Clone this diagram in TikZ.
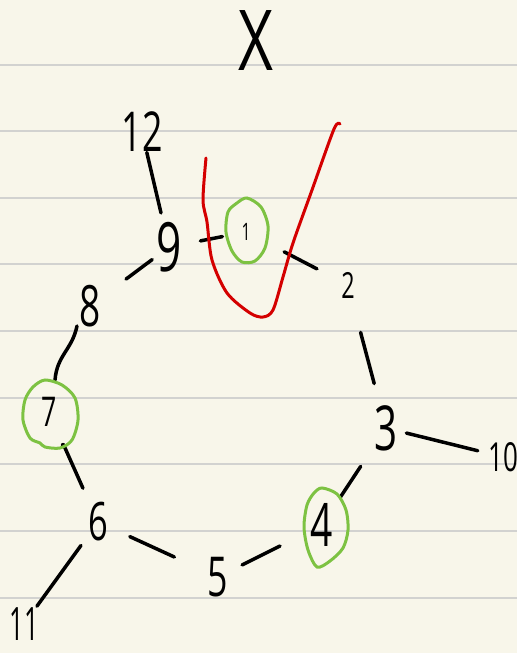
\documentclass[tikz,border=0pt]{standalone}
\usepackage{fontspec}
\setmainfont{Open Sans}
\usepackage{tikz}
\newcommand\hsz[1]{\fontsize{#1}{#1}\selectfont}
\definecolor{paper}{HTML}{F8F6EA}
\definecolor{rule}{HTML}{D2D2D0}
\definecolor{hlgreen}{HTML}{7DC242}
\definecolor{checkred}{HTML}{D40000}
\tikzset{
  lbl/.style={inner sep=0pt, xscale=0.65},
  edge/.style={line width=3.5pt, line cap=round},
  ring/.style={hlgreen, line width=3pt},
}
\begin{document}
\begin{tikzpicture}[x=1pt,y=-1pt]
\fill[paper] (0,0) rectangle (517,653);
\useasboundingbox (0,0) rectangle (517,653);
\foreach \y in {65,131,198,264,331,398,464,531,598}
  \draw[rule, line width=2pt] (0,\y) -- (517,\y);

\node[inner sep=0pt, xscale=0.72] (title) at (256,41) {\hsz{84}X};

\node[lbl] (n12) at (142,132) {\hsz{55}12};
\node[lbl] (n9) at (169,247) {\hsz{68}9};
\node[lbl] (n1) at (246,232) {\hsz{24}1};
\node[lbl] (n2) at (348,285) {\hsz{36}2};
\node[lbl] (n3) at (386,428) {\hsz{62}3};
\node[lbl] (n10) at (503,457) {\hsz{40}10};
\node[lbl] (n4) at (322,525) {\hsz{60}4};
\node[lbl] (n5) at (218,577) {\hsz{55}5};
\node[lbl] (n6) at (98,522) {\hsz{53}6};
\node[lbl, xscale=0.85] (n11) at (24,624) {\hsz{46}11};
\node[lbl] (n7) at (49,412) {\hsz{41}7};
\node[lbl] (n8) at (90,306) {\hsz{57}8};

\draw[edge, shorten <=21pt, shorten >=35pt] (n12.center) -- (n9.center);
\draw[edge, shorten <=32pt, shorten >=24pt] (n9.center) -- (n1.center);
\draw[edge, shorten <=43pt, shorten >=35pt] (n1.center) -- (n2.center);
\draw[edge, shorten <=49pt, shorten >=46pt] (n2.center) -- (n3.center);
\draw[edge, shorten <=21pt, shorten >=26pt] (n3.center) -- (n10.center);
\draw[edge, shorten <=46pt, shorten >=33pt] (n3.center) -- (n4.center);
\draw[edge, shorten <=47pt, shorten >=27pt] (n4.center) -- (n5.center);
\draw[edge, shorten <=48pt, shorten >=35pt] (n5.center) -- (n6.center);
\draw[edge, shorten <=29pt, shorten >=22pt] (n6.center) -- (n11.center);
\draw[edge, shorten <=37pt, shorten >=36pt] (n6.center) -- (n7.center);
\draw[edge, shorten <=45pt, shorten >=21pt] (n8.center) -- (n9.center);
\coordinate (w1) at (55,380);
\coordinate (w2) at (77,326);
\draw[edge] (w1) .. controls (57,355) and (72,350) .. (w2);
\fill (63,445) circle (2.2pt);

\draw[ring] plot[smooth cycle] coordinates {(247,198) (261,207) (268,226) (265,248) (255,261) (242,262) (232,251) (226,232) (228,212) (237,203)};
\draw[ring] plot[smooth cycle] coordinates {(45,380) (62,385) (75,398) (78,420) (72,440) (60,448) (45,447) (40,443) (30,438) (23,420) (25,400) (33,387)};
\draw[ring] plot[smooth cycle] coordinates {(322,488) (337,494) (346,510) (348,530) (343,548) (330,561) (317,567) (308,550) (304,527) (307,505) (314,493)};

\draw[checkred, line width=3pt, line cap=round, line join=round] plot[smooth] coordinates {(206,158) (203,200) (207,222) (212,260) (227,293) (250,313) (263,317) (273,310) (283,277) (293,243) (312,190) (334,129) (340,124)};
\end{tikzpicture}
\end{document}
